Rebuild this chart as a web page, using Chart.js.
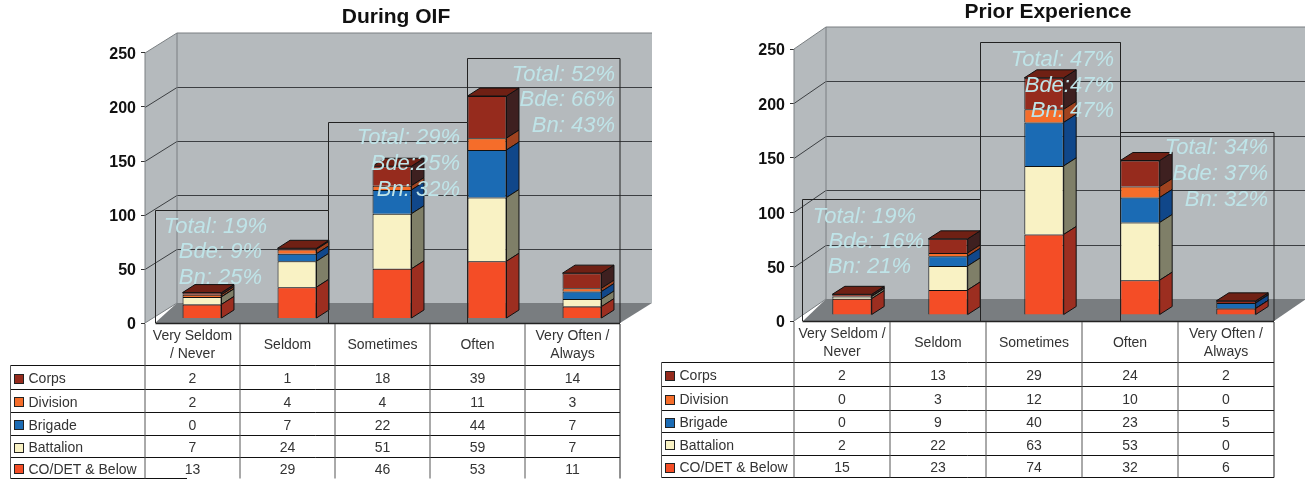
<!DOCTYPE html>
<html>
<head>
<meta charset="utf-8">
<script src="https://cdn.jsdelivr.net/npm/chart.js@4/dist/chart.umd.min.js"></script>
<style>
html,body{margin:0;padding:0;background:#fff;overflow:hidden}
canvas{position:absolute;top:0}
#c1{left:0}
#c2{left:655px}
</style>
</head>
<body>
<canvas id="c1" width="655" height="479"></canvas>
<canvas id="c2" width="650" height="479"></canvas>
<script>
// ---- data ----
const titleOIF = "During OIF";
const titlePrior = "Prior Experience";
const categoriesOIF = [["Very Seldom","/ Never"],"Seldom","Sometimes","Often",["Very Often /","Always"]];
const categoriesPrior = [["Very Seldom /","Never"],"Seldom","Sometimes","Often",["Very Often /","Always"]];
const seriesNames = ["CO/DET & Below","Battalion","Brigade","Division","Corps"];

const codetOIF = [13,29,46,53,11];
const battalionOIF = [7,24,51,59,7];
const brigadeOIF = [0,7,22,44,7];
const divisionOIF = [2,4,4,11,3];
const corpsOIF = [2,1,18,39,14];

const codetPrior = [15,23,74,32,6];
const battalionPrior = [2,22,63,53,0];
const brigadePrior = [0,9,40,23,5];
const divisionPrior = [0,3,12,10,0];
const corpsPrior = [2,13,29,24,2];

const notesOIF = [["Total: 19%","Bde: 9%","Bn: 25%"],["Total: 29%","Bde:25%","Bn: 32%"],["Total: 52%","Bde: 66%","Bn: 43%"]];
const notesPrior = [["Total: 19%","Bde: 16%","Bn: 21%"],["Total: 47%","Bde:47%","Bn: 47%"],["Total: 34%","Bde: 37%","Bn: 32%"]];

// ---- styles ----
const FONT = "'Liberation Sans', Arial, sans-serif";
const faceColors = ["#f44d26","#f9f2c4","#1b6bb4","#f56d2a","#962b1d"];
const sideColors = ["#9c2e20","#7f7f68","#10478a","#a0431f","#3e2020"];
const topColors  = ["#9c2e20","#7f7f68","#10478a","#a0431f","#6f2014"];
const WALL="#b5babd", FLOOR="#797d80", GRID="#3c3f42", EDGE="#7a7f82", NOTE="#bfe4e8", INK="#333";

function line(ctx,pts,color,w){
  ctx.beginPath();ctx.strokeStyle=color;ctx.lineWidth=w||1;
  pts.forEach((p,i)=>i?ctx.lineTo(p[0],p[1]):ctx.moveTo(p[0],p[1]));
  ctx.stroke();
}
function poly(ctx,pts,fill){
  ctx.beginPath();ctx.fillStyle=fill;
  pts.forEach((p,i)=>i?ctx.lineTo(p[0],p[1]):ctx.moveTo(p[0],p[1]));
  ctx.closePath();ctx.fill();
}

const scene = {
  id:'scene',
  afterLayout(chart,args,o){
    if(chart.titleBlock){chart.titleBlock.left+=o.titleNudge;chart.titleBlock.right+=o.titleNudge;}
  },
  beforeDatasetsDraw(chart,args,o){
    const ctx=chart.ctx,a=chart.chartArea,y=chart.scales.y;
    const dx=o.depth[0],dy=o.depth[1];
    ctx.save();
    // side wall and back wall
    poly(ctx,[[a.left,a.top],[a.left+dx,a.top+dy],[a.left+dx,a.bottom+dy],[a.left,a.bottom]],WALL);
    poly(ctx,[[a.left+dx,a.top+dy],[a.right+dx,a.top+dy],[a.right+dx,a.bottom+dy],[a.left+dx,a.bottom+dy]],WALL);
    // floor
    poly(ctx,[[o.boxLeft,a.bottom],[a.left+dx,a.bottom+dy],[a.right+dx,a.bottom+dy],[a.right,a.bottom]],FLOOR);
    // gridlines taken from the value scale
    y.ticks.forEach(t=>{
      const p=Math.round(y.getPixelForValue(t.value))+0.5;
      if(t.value>0 && t.value<250){
        line(ctx,[[a.left,p],[a.left+dx,p+dy],[a.right+dx,p+dy]],GRID,1);
      }
    });
    const tp=y.getPixelForValue(250);
    line(ctx,[[a.left,tp],[a.left+dx,tp+dy],[a.right+dx,tp+dy]],EDGE,1);
    line(ctx,[[a.left+dx,tp+dy],[a.left+dx,a.bottom+dy]],EDGE,1);
    line(ctx,[[a.left,tp],[a.left,a.bottom]],EDGE,1);
    line(ctx,[[a.left,a.bottom],[a.left+dx,a.bottom+dy]],EDGE,1);
    ctx.restore();
    // shift the bars into the middle of the floor
    ctx.save();
    ctx.translate(o.barShift[0],o.barShift[1]);
  },
  afterDatasetDraw(chart,args,o){
    const ctx=chart.ctx,i=args.index,d=o.barDepth;
    args.meta.data.forEach(b=>{
      const p=b.getProps(['x','y','base','width'],true);
      const r=p.x+p.width/2,l=p.x-p.width/2;
      ctx.lineWidth=1;ctx.strokeStyle="#111";
      ctx.beginPath();ctx.moveTo(r,p.y);ctx.lineTo(r+d[0],p.y+d[1]);ctx.lineTo(r+d[0],p.base+d[1]);ctx.lineTo(r,p.base);ctx.closePath();
      ctx.fillStyle=sideColors[i];ctx.fill();ctx.stroke();
      if(i===chart.data.datasets.length-1){
        ctx.beginPath();ctx.moveTo(l,p.y);ctx.lineTo(l+d[0],p.y+d[1]);ctx.lineTo(r+d[0],p.y+d[1]);ctx.lineTo(r,p.y);ctx.closePath();
        ctx.fillStyle=topColors[i];ctx.fill();ctx.stroke();
      }
    });
  },
  afterDatasetsDraw(chart){
    chart.ctx.restore();
  },
  afterDraw(chart,args,o){
    const ctx=chart.ctx,a=chart.chartArea,x=chart.scales.x;
    ctx.save();
    // outline boxes around the annotated bars
    const B=o.boxes;
    line(ctx,[[B.left,a.bottom],[B.left,B.topA],[B.x1,B.topA],[B.x1,B.topB],[B.x2,B.topB],[B.x2,B.topC],[a.right,B.topC],[a.right,a.bottom]],"#222",1);
    line(ctx,[[B.x1,B.topA],[B.x1,a.bottom]],"#222",1);
    line(ctx,[[B.x2,B.topB],[B.x2,a.bottom]],"#222",1);
    line(ctx,[[B.left,a.bottom+0.5],[a.right,a.bottom+0.5]],"#222",1.5);
    // percent notes
    ctx.font="italic 22px "+FONT;ctx.fillStyle=NOTE;ctx.textBaseline="middle";ctx.textAlign="right";
    o.notes.forEach((n,k)=>n.forEach((t,j)=>{
      const s=o.noteAt[k][j];ctx.fillText(t,s[0],s[1]);
    }));
    // data table built from the dataset values
    const T=o.table,cols=[];
    const half=(x.getPixelForValue(1)-x.getPixelForValue(0))/2;
    x.ticks.forEach((t,k)=>cols.push(x.getPixelForTick(k)-half));
    cols.push(a.right);
    const ys=T.rows;
    for(let r=1;r<ys.length-1;r++) line(ctx,[[T.left,ys[r]],[a.right,ys[r]]],"#111",1);
    line(ctx,[[T.left,ys[ys.length-1]],[T.bottomEnd,ys[ys.length-1]]],"#111",1);
    line(ctx,[[T.left,ys[1]],[T.left,ys[ys.length-1]]],"#555",1);
    cols.forEach((c,k)=>line(ctx,[[c,a.bottom+1],[c,ys[ys.length-1]]],k===cols.length-1?"#222":"#555",1));
    ctx.font="14px "+FONT;ctx.fillStyle=INK;ctx.textBaseline="middle";
    const n=chart.data.datasets.length;
    for(let r=0;r<n;r++){
      const ds=chart.data.datasets[n-1-r];
      const my=(ys[r+1]+ys[r+2])/2+2;
      ctx.fillStyle=ds.backgroundColor;ctx.strokeStyle="#222";ctx.lineWidth=1;
      ctx.fillRect(T.left+4,Math.round(my)-5.5,9,9);ctx.strokeRect(T.left+4,Math.round(my)-5.5,9,9);
      ctx.fillStyle=INK;ctx.textAlign="left";
      ctx.fillText(ds.label,T.left+18,my);
      ctx.textAlign="center";
      ds.data.forEach((v,k)=>ctx.fillText(String(v),x.getPixelForTick(k),my));
    }
    ctx.restore();
  }
};

function build(id,title,cats,series,cfg){
  return new Chart(document.getElementById(id),{
    type:'bar',
    data:{labels:cats,datasets:series.map((vals,i)=>({
      label:seriesNames[i],data:vals,backgroundColor:faceColors[i],
      borderColor:"#111",borderWidth:1,barPercentage:0.41,categoryPercentage:1,clip:false
    }))},
    plugins:[scene],
    options:{
      responsive:false,animation:false,
      layout:{padding:{left:0,top:cfg.padTop,right:cfg.padRight,bottom:0}},
      plugins:{
        legend:{display:false},tooltip:{enabled:false},
        title:{display:true,text:title,fullSize:false,color:"#111",
          font:{family:FONT,size:21,weight:'bold',lineHeight:1.2},
          padding:{top:0,bottom:cfg.titleGap}},
        scene:cfg.scene
      },
      scales:{
        x:{stacked:true,
          afterFit(s){s.height=cfg.xHeight;},
          grid:{display:false},border:{display:false},
          ticks:{color:INK,font:{family:FONT,size:14,lineHeight:1.25},padding:5.5,autoSkip:false,maxRotation:0,crossAlign:'center'}},
        y:{stacked:true,min:0,max:250,
          afterFit(s){s.width=cfg.yWidth;},
          grid:{drawOnChartArea:false,drawTicks:true,tickLength:4,color:"#333"},
          border:{display:false},
          ticks:{stepSize:50,color:"#111",padding:5,labelOffset:2,font:{family:FONT,size:16,weight:'bold'}}}
      }
    }
  });
}

build('c1',titleOIF,categoriesOIF,[codetOIF,battalionOIF,brigadeOIF,divisionOIF,corpsOIF],{
  padTop:4.4,padRight:35,titleGap:23.4,xHeight:156,yWidth:145,
  scene:{titleNudge:13.5,depth:[32,-20],barShift:[9.5,-4.5],barDepth:[12.5,-8],boxLeft:155,
    boxes:{left:155.5,topA:210.5,x1:328.5,topB:122.5,x2:467.5,topC:58.5},
    notes:notesOIF,
    noteAt:[[[267,227],[262,252],[262,278]],[[460,138],[460,164],[460,190]],[[615,75],[615,100],[615,126]]],
    table:{left:10.5,rows:[324.5,365.5,389.5,412.5,435.5,457.5,478.5],bottomEnd:187}}
});
build('c2',titlePrior,categoriesPrior,[codetPrior,battalionPrior,brigadePrior,divisionPrior,corpsPrior],{
  padTop:0,padRight:31,titleGap:23.8,xHeight:158,yWidth:139,
  scene:{titleNudge:14,depth:[32,-22],barShift:[10,-6],barDepth:[12.5,-8],boxLeft:148,
    boxes:{left:147.5,topA:199.5,x1:325.5,topB:42.5,x2:465.5,topC:132.5},
    notes:notesPrior,
    noteAt:[[[261,217],[269,242],[256,267]],[[459,60],[459,86],[459,111]],[[613,148],[613,174],[613,200]]],
    table:{left:6.5,rows:[321.5,362.5,386.5,410.5,432.5,455.5,477.5],bottomEnd:619}}
});
</script>
</body>
</html>
